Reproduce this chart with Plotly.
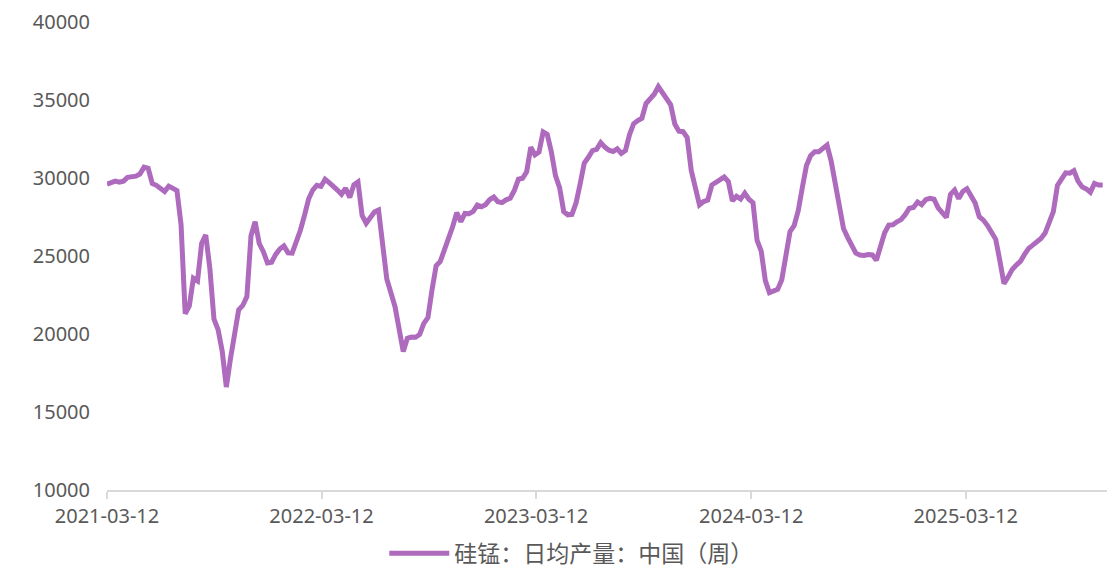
import pandas as pd
import plotly.graph_objects as go

start_date = "2021-03-12"
series_name = "硅锰：日均产量：中国（周）"
values = [
    29600, 29680, 29800, 29730, 29800, 30040, 30060, 30120, 30250, 30690,
    30620, 29650, 29530, 29290, 29140, 29480, 29380, 29200, 27000, 21300,
    21800, 23570, 23400, 25800, 26350, 24200, 20950, 20280, 18900, 16600,
    18400, 20000, 21550, 21830, 22400, 26300, 27200, 25800, 25280, 24550,
    24600, 25100, 25450, 25650, 25200, 25180, 25900, 26650, 27600, 28650,
    29230, 29530, 29460, 29920, 29700, 29490, 29230, 28960, 29350, 28750,
    29570, 29750, 27600, 27100, 27500, 27820, 27950, 25560, 23520, 22650,
    21750, 20320, 18880, 19720, 19800, 19790, 19970, 20680, 21050, 22850,
    24380, 24650, 25330, 26000, 26870, 27780, 27200, 27730, 27710, 27860,
    28260, 28160, 28290, 28610, 28780, 28480, 28420, 28600, 28700, 29200,
    29920, 29980, 30400, 31970, 31480, 31670, 32950, 32800, 31670, 30150,
    29380, 27850, 27640, 27670, 28400, 29630, 30960, 31330, 31760, 31840,
    32270, 31980, 31780, 31700, 31870, 31570, 31760, 32780, 33480, 33680,
    33830, 34770, 35060, 35370, 35860, 35510, 35110, 34690, 33460, 33000,
    32970, 32600, 30480, 29270, 28280, 28490, 28580, 29550, 29730, 29970,
    30060, 29780, 28530, 28830, 28650, 29030, 28640, 28420, 26000, 25320,
    23420, 22650, 22770, 22860, 23480, 25000, 26560, 26950, 27900, 29400,
    30800, 31430, 31680, 31680, 31940, 32110, 31080, 29640, 28100, 26760,
    26200, 25750, 25180, 25060, 25040, 25100, 25070, 24730, 25700, 26490,
    26980, 27000, 27190, 27330, 27650, 28060, 28110, 28460, 28290, 28610,
    28700, 28640, 28090, 27720, 27470, 28950, 29230, 28680, 29140, 29310,
    28790, 28400, 27520, 27300, 26950, 26560, 26070, 24700, 23230, 23650,
    24140, 24420, 24660, 25100, 25490, 25700, 25900, 26120, 26470, 27170,
    27840, 29530, 30010, 30330, 30310, 30470, 29800, 29430, 29300, 29080,
    29650, 29550, 29550,
]
x_tick_vals = ["2021-03-12", "2022-03-12", "2023-03-12", "2024-03-12", "2025-03-12"]
y_tick_vals = [10000, 15000, 20000, 25000, 30000, 35000, 40000]

dates = pd.date_range(start=start_date, periods=len(values), freq="7D")

fig = go.Figure()
fig.add_trace(go.Scatter(
    x=dates, y=values, mode="lines", name=series_name,
    line=dict(color="#AE6ABD", width=5),
))

tick_font = dict(family="Noto Sans, Noto Sans CJK SC", size=20, color="#595959")

fig.update_layout(
    width=1107, height=565,
    margin=dict(l=99, r=7, t=14, b=83),
    paper_bgcolor="white", plot_bgcolor="white",
    showlegend=True,
    legend=dict(
        orientation="h", x=0.277, xanchor="left",
        yref="container", y=0.035, yanchor="middle",
        font=dict(family="Noto Sans CJK SC", size=23, color="#595959"),
        itemwidth=60,
    ),
    xaxis=dict(
        type="date", automargin=False,
        range=["2021-03-12", "2025-11-09"],
        tickvals=x_tick_vals, ticktext=x_tick_vals,
        showgrid=False, zeroline=False,
        showline=True, linecolor="#D9D9D9", linewidth=1.5,
        ticks="outside", ticklen=7, tickcolor="#D9D9D9", tickwidth=1.5,
        tickfont=tick_font,
    ),
    yaxis=dict(
        automargin=False,
        range=[10000, 40000], tickvals=y_tick_vals,
        ticktext=[str(v) for v in y_tick_vals],
        showgrid=False, zeroline=False, showline=False,
        ticks="", ticklabelstandoff=16,
        tickfont=tick_font,
    ),
)

fig.write_html("out.html")
